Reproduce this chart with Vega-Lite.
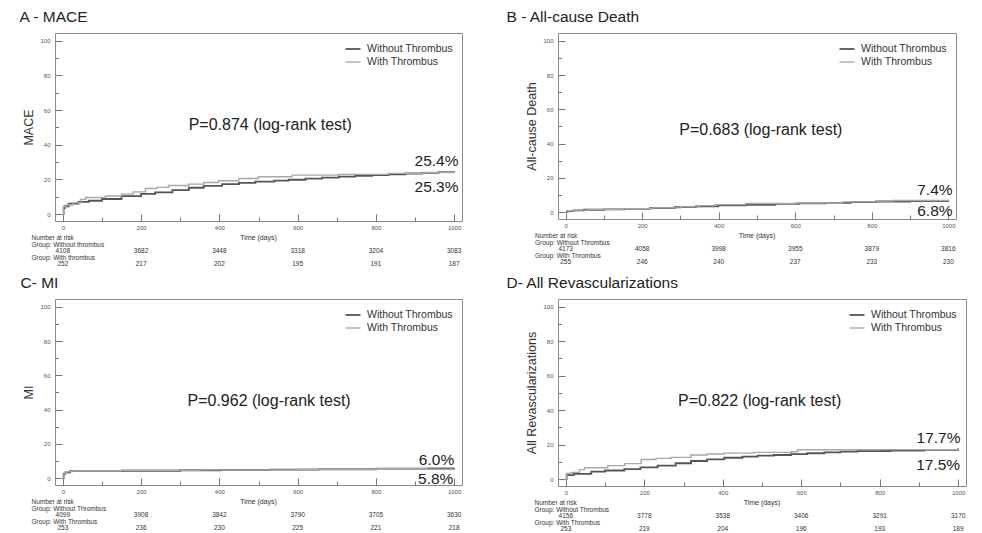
{
  "$schema": "https://vega.github.io/schema/vega-lite/v6.json",
  "padding": {"left": 19, "top": 10, "right": 0, "bottom": 0},
  "config": {
    "font": "Liberation Sans",
    "view": {"stroke": "#8c8c8c", "strokeWidth": 1},
    "axis": {"domain": false, "grid": false, "labelFontSize": 6, "labelColor": "#555", "tickColor": "#777", "tickWidth": 1, "titleFontSize": 12.5, "titleFontWeight": "normal", "titleColor": "#333", "titlePadding": 4, "labelFont": "Liberation Sans", "titleFont": "Liberation Sans", "format": "d"},
    "legend": {"orient": "top-right", "offset": 9, "padding": 0, "labelFontSize": 10.5, "labelColor": "#333", "symbolType": "M-1.25,0H1.25", "symbolSize": 144, "symbolStrokeWidth": 2, "labelOffset": 7, "rowPadding": 0, "labelFont": "Liberation Sans"},
    "text": {"font": "Liberation Sans", "color": "#222"},
    "title": {"font": "Liberation Sans", "fontWeight": "normal", "fontSize": 15.5, "color": "#222", "anchor": "start", "offset": 7}
  },
  "datasets": {
    "curves": [
      {"panel":"A","group":"Without Thrombus","day":0,"pct":0},{"panel":"A","group":"Without Thrombus","day":2,"pct":3.5},{"panel":"A","group":"Without Thrombus","day":5,"pct":4.5},{"panel":"A","group":"Without Thrombus","day":15,"pct":6.0},{"panel":"A","group":"Without Thrombus","day":40,"pct":7.0},{"panel":"A","group":"Without Thrombus","day":66,"pct":7.7},{"panel":"A","group":"Without Thrombus","day":100,"pct":8.7},{"panel":"A","group":"Without Thrombus","day":150,"pct":10.4},{"panel":"A","group":"Without Thrombus","day":200,"pct":11.6},{"panel":"A","group":"Without Thrombus","day":236,"pct":12.5},{"panel":"A","group":"Without Thrombus","day":280,"pct":13.8},{"panel":"A","group":"Without Thrombus","day":322,"pct":15.2},{"panel":"A","group":"Without Thrombus","day":360,"pct":16.3},{"panel":"A","group":"Without Thrombus","day":407,"pct":17.3},{"panel":"A","group":"Without Thrombus","day":450,"pct":18.0},{"panel":"A","group":"Without Thrombus","day":492,"pct":18.7},{"panel":"A","group":"Without Thrombus","day":540,"pct":19.3},{"panel":"A","group":"Without Thrombus","day":577,"pct":19.8},{"panel":"A","group":"Without Thrombus","day":620,"pct":20.4},{"panel":"A","group":"Without Thrombus","day":662,"pct":21.0},{"panel":"A","group":"Without Thrombus","day":705,"pct":21.6},{"panel":"A","group":"Without Thrombus","day":747,"pct":22.1},{"panel":"A","group":"Without Thrombus","day":790,"pct":22.5},{"panel":"A","group":"Without Thrombus","day":832,"pct":22.9},{"panel":"A","group":"Without Thrombus","day":875,"pct":23.4},{"panel":"A","group":"Without Thrombus","day":917,"pct":23.8},{"panel":"A","group":"Without Thrombus","day":960,"pct":24.2},{"panel":"A","group":"Without Thrombus","day":1000,"pct":24.6},
      {"panel":"A","group":"With Thrombus","day":0,"pct":0},{"panel":"A","group":"With Thrombus","day":2,"pct":4.5},{"panel":"A","group":"With Thrombus","day":8,"pct":5.2},{"panel":"A","group":"With Thrombus","day":25,"pct":6.5},{"panel":"A","group":"With Thrombus","day":45,"pct":8.5},{"panel":"A","group":"With Thrombus","day":58,"pct":9.6},{"panel":"A","group":"With Thrombus","day":109,"pct":10.4},{"panel":"A","group":"With Thrombus","day":150,"pct":11.5},{"panel":"A","group":"With Thrombus","day":180,"pct":12.8},{"panel":"A","group":"With Thrombus","day":211,"pct":14.8},{"panel":"A","group":"With Thrombus","day":240,"pct":15.4},{"panel":"A","group":"With Thrombus","day":270,"pct":16.5},{"panel":"A","group":"With Thrombus","day":322,"pct":17.3},{"panel":"A","group":"With Thrombus","day":360,"pct":18.2},{"panel":"A","group":"With Thrombus","day":398,"pct":19.2},{"panel":"A","group":"With Thrombus","day":450,"pct":20.5},{"panel":"A","group":"With Thrombus","day":500,"pct":21.5},{"panel":"A","group":"With Thrombus","day":586,"pct":22.5},{"panel":"A","group":"With Thrombus","day":705,"pct":22.9},{"panel":"A","group":"With Thrombus","day":832,"pct":23.5},{"panel":"A","group":"With Thrombus","day":920,"pct":24.0},{"panel":"A","group":"With Thrombus","day":1000,"pct":24.6},
      {"panel":"B","group":"Without Thrombus","day":0,"pct":0},{"panel":"B","group":"Without Thrombus","day":5,"pct":0.6},{"panel":"B","group":"Without Thrombus","day":20,"pct":1.0},{"panel":"B","group":"Without Thrombus","day":48,"pct":1.4},{"panel":"B","group":"Without Thrombus","day":100,"pct":1.6},{"panel":"B","group":"Without Thrombus","day":153,"pct":1.9},{"panel":"B","group":"Without Thrombus","day":220,"pct":2.4},{"panel":"B","group":"Without Thrombus","day":285,"pct":2.9},{"panel":"B","group":"Without Thrombus","day":340,"pct":3.4},{"panel":"B","group":"Without Thrombus","day":399,"pct":3.9},{"panel":"B","group":"Without Thrombus","day":470,"pct":4.3},{"panel":"B","group":"Without Thrombus","day":548,"pct":4.8},{"panel":"B","group":"Without Thrombus","day":610,"pct":5.1},{"panel":"B","group":"Without Thrombus","day":680,"pct":5.4},{"panel":"B","group":"Without Thrombus","day":745,"pct":5.8},{"panel":"B","group":"Without Thrombus","day":811,"pct":6.2},{"panel":"B","group":"Without Thrombus","day":900,"pct":6.5},{"panel":"B","group":"Without Thrombus","day":1000,"pct":6.8},
      {"panel":"B","group":"With Thrombus","day":0,"pct":0},{"panel":"B","group":"With Thrombus","day":8,"pct":0.8},{"panel":"B","group":"With Thrombus","day":30,"pct":1.2},{"panel":"B","group":"With Thrombus","day":60,"pct":1.6},{"panel":"B","group":"With Thrombus","day":150,"pct":2.0},{"panel":"B","group":"With Thrombus","day":230,"pct":2.5},{"panel":"B","group":"With Thrombus","day":300,"pct":3.1},{"panel":"B","group":"With Thrombus","day":350,"pct":3.8},{"panel":"B","group":"With Thrombus","day":390,"pct":4.4},{"panel":"B","group":"With Thrombus","day":470,"pct":5.0},{"panel":"B","group":"With Thrombus","day":600,"pct":5.3},{"panel":"B","group":"With Thrombus","day":724,"pct":6.0},{"panel":"B","group":"With Thrombus","day":855,"pct":6.8},{"panel":"B","group":"With Thrombus","day":1000,"pct":7.2},
      {"panel":"C","group":"Without Thrombus","day":0,"pct":0},{"panel":"C","group":"Without Thrombus","day":2,"pct":2.5},{"panel":"C","group":"Without Thrombus","day":6,"pct":3.4},{"panel":"C","group":"Without Thrombus","day":18,"pct":4.1},{"panel":"C","group":"Without Thrombus","day":152,"pct":4.3},{"panel":"C","group":"Without Thrombus","day":300,"pct":4.6},{"panel":"C","group":"Without Thrombus","day":403,"pct":4.8},{"panel":"C","group":"Without Thrombus","day":530,"pct":5.0},{"panel":"C","group":"Without Thrombus","day":655,"pct":5.2},{"panel":"C","group":"Without Thrombus","day":800,"pct":5.5},{"panel":"C","group":"Without Thrombus","day":1000,"pct":5.8},
      {"panel":"C","group":"With Thrombus","day":0,"pct":0},{"panel":"C","group":"With Thrombus","day":3,"pct":3.0},{"panel":"C","group":"With Thrombus","day":10,"pct":3.8},{"panel":"C","group":"With Thrombus","day":25,"pct":4.2},{"panel":"C","group":"With Thrombus","day":150,"pct":4.6},{"panel":"C","group":"With Thrombus","day":350,"pct":4.8},{"panel":"C","group":"With Thrombus","day":600,"pct":5.2},{"panel":"C","group":"With Thrombus","day":800,"pct":5.5},{"panel":"C","group":"With Thrombus","day":930,"pct":6.0},{"panel":"C","group":"With Thrombus","day":1000,"pct":6.0},
      {"panel":"D","group":"Without Thrombus","day":0,"pct":0},{"panel":"D","group":"Without Thrombus","day":2,"pct":2.3},{"panel":"D","group":"Without Thrombus","day":20,"pct":3.0},{"panel":"D","group":"Without Thrombus","day":65,"pct":4.3},{"panel":"D","group":"Without Thrombus","day":100,"pct":5.0},{"panel":"D","group":"Without Thrombus","day":149,"pct":5.8},{"panel":"D","group":"Without Thrombus","day":190,"pct":6.8},{"panel":"D","group":"Without Thrombus","day":234,"pct":7.8},{"panel":"D","group":"Without Thrombus","day":280,"pct":9.2},{"panel":"D","group":"Without Thrombus","day":319,"pct":10.5},{"panel":"D","group":"Without Thrombus","day":360,"pct":11.5},{"panel":"D","group":"Without Thrombus","day":404,"pct":12.4},{"panel":"D","group":"Without Thrombus","day":450,"pct":13.0},{"panel":"D","group":"Without Thrombus","day":489,"pct":13.6},{"panel":"D","group":"Without Thrombus","day":530,"pct":14.0},{"panel":"D","group":"Without Thrombus","day":574,"pct":14.5},{"panel":"D","group":"Without Thrombus","day":615,"pct":15.0},{"panel":"D","group":"Without Thrombus","day":659,"pct":15.5},{"panel":"D","group":"Without Thrombus","day":700,"pct":15.9},{"panel":"D","group":"Without Thrombus","day":743,"pct":16.3},{"panel":"D","group":"Without Thrombus","day":828,"pct":16.5},{"panel":"D","group":"Without Thrombus","day":913,"pct":17.0},{"panel":"D","group":"Without Thrombus","day":1000,"pct":17.7},
      {"panel":"D","group":"With Thrombus","day":0,"pct":0},{"panel":"D","group":"With Thrombus","day":2,"pct":3.3},{"panel":"D","group":"With Thrombus","day":14,"pct":3.9},{"panel":"D","group":"With Thrombus","day":35,"pct":5.5},{"panel":"D","group":"With Thrombus","day":48,"pct":6.6},{"panel":"D","group":"With Thrombus","day":107,"pct":7.8},{"panel":"D","group":"With Thrombus","day":150,"pct":9.0},{"panel":"D","group":"With Thrombus","day":192,"pct":11.4},{"panel":"D","group":"With Thrombus","day":230,"pct":12.0},{"panel":"D","group":"With Thrombus","day":268,"pct":12.6},{"panel":"D","group":"With Thrombus","day":319,"pct":14.0},{"panel":"D","group":"With Thrombus","day":360,"pct":14.6},{"panel":"D","group":"With Thrombus","day":404,"pct":15.1},{"panel":"D","group":"With Thrombus","day":480,"pct":15.5},{"panel":"D","group":"With Thrombus","day":574,"pct":15.9},{"panel":"D","group":"With Thrombus","day":591,"pct":17.0},{"panel":"D","group":"With Thrombus","day":800,"pct":17.1},{"panel":"D","group":"With Thrombus","day":1000,"pct":17.7}
    ],
    "risk": [
      {"panel":"A","row":"Without Thrombus","day":0,"n":4108},{"panel":"A","row":"Without Thrombus","day":200,"n":3682},{"panel":"A","row":"Without Thrombus","day":400,"n":3448},{"panel":"A","row":"Without Thrombus","day":600,"n":3318},{"panel":"A","row":"Without Thrombus","day":800,"n":3204},{"panel":"A","row":"Without Thrombus","day":1000,"n":3083},
      {"panel":"A","row":"With Thrombus","day":0,"n":252},{"panel":"A","row":"With Thrombus","day":200,"n":217},{"panel":"A","row":"With Thrombus","day":400,"n":202},{"panel":"A","row":"With Thrombus","day":600,"n":195},{"panel":"A","row":"With Thrombus","day":800,"n":191},{"panel":"A","row":"With Thrombus","day":1000,"n":187},
      {"panel":"B","row":"Without Thrombus","day":0,"n":4173},{"panel":"B","row":"Without Thrombus","day":200,"n":4058},{"panel":"B","row":"Without Thrombus","day":400,"n":3998},{"panel":"B","row":"Without Thrombus","day":600,"n":3955},{"panel":"B","row":"Without Thrombus","day":800,"n":3879},{"panel":"B","row":"Without Thrombus","day":1000,"n":3816},
      {"panel":"B","row":"With Thrombus","day":0,"n":255},{"panel":"B","row":"With Thrombus","day":200,"n":246},{"panel":"B","row":"With Thrombus","day":400,"n":240},{"panel":"B","row":"With Thrombus","day":600,"n":237},{"panel":"B","row":"With Thrombus","day":800,"n":233},{"panel":"B","row":"With Thrombus","day":1000,"n":230},
      {"panel":"C","row":"Without Thrombus","day":0,"n":4099},{"panel":"C","row":"Without Thrombus","day":200,"n":3908},{"panel":"C","row":"Without Thrombus","day":400,"n":3842},{"panel":"C","row":"Without Thrombus","day":600,"n":3790},{"panel":"C","row":"Without Thrombus","day":800,"n":3705},{"panel":"C","row":"Without Thrombus","day":1000,"n":3630},
      {"panel":"C","row":"With Thrombus","day":0,"n":253},{"panel":"C","row":"With Thrombus","day":200,"n":236},{"panel":"C","row":"With Thrombus","day":400,"n":230},{"panel":"C","row":"With Thrombus","day":600,"n":225},{"panel":"C","row":"With Thrombus","day":800,"n":221},{"panel":"C","row":"With Thrombus","day":1000,"n":218},
      {"panel":"D","row":"Without Thrombus","day":0,"n":4156},{"panel":"D","row":"Without Thrombus","day":200,"n":3778},{"panel":"D","row":"Without Thrombus","day":400,"n":3538},{"panel":"D","row":"Without Thrombus","day":600,"n":3406},{"panel":"D","row":"Without Thrombus","day":800,"n":3291},{"panel":"D","row":"Without Thrombus","day":1000,"n":3170},
      {"panel":"D","row":"With Thrombus","day":0,"n":253},{"panel":"D","row":"With Thrombus","day":200,"n":219},{"panel":"D","row":"With Thrombus","day":400,"n":204},{"panel":"D","row":"With Thrombus","day":600,"n":196},{"panel":"D","row":"With Thrombus","day":800,"n":193},{"panel":"D","row":"With Thrombus","day":1000,"n":189}
    ]
  },
  "columns": 2,
  "spacing": {"row": 8, "column": 43},
  "resolve": {"scale": {"color": "independent", "strokeWidth": "independent"}, "legend": {"color": "independent"}},
  "concat": [
    {
      "title": {"text": "A - MACE", "dx": -3},
      "spacing": 3,
      "resolve": {"scale": {"color": "independent", "strokeWidth": "independent"}, "legend": {"color": "independent"}},
      "vconcat": [
        {
          "width": 407, "height": 188,
          "resolve": {"axis": {"x": "independent", "y": "independent"}},
          "layer": [
            {
              "data": {"name": "curves"},
              "transform": [{"filter": "datum.panel === 'A'"}],
              "mark": {"type": "line", "interpolate": "step-after"},
              "encoding": {
                "x": {"field": "day", "type": "quantitative", "scale": {"domain": [-20, 1020], "nice": false, "zero": false}, "axis": {"values": [0,200,400,600,800,1000], "tickSize": -7, "labelPadding": 10, "title": null, "orient": "bottom"}},
                "y": {"field": "pct", "type": "quantitative", "scale": {"domain": [-4, 104.5], "nice": false, "zero": false}, "axis": {"values": [0,20,40,60,80,100], "tickSize": -7, "labelPadding": 12, "title": "MACE", "orient": "left"}},
                "color": {"field": "group", "type": "nominal", "scale": {"domain": ["Without Thrombus","With Thrombus"], "range": ["#555555","#a8a8a8"]}, "legend": {"title": null}},
                "strokeWidth": {"field": "group", "type": "nominal", "scale": {"domain": ["Without Thrombus","With Thrombus"], "range": [1.8, 1.4]}, "legend": null}
              }
            },
            {
              "data": {"values": [{}]},
              "mark": {"type": "text", "text": "P=0.874 (log-rank test)", "fontSize": 16},
              "encoding": {
                "x": {"datum": 530, "type": "quantitative", "axis": {"values": [100,300,500,700,900], "tickSize": -4, "labels": false, "title": null, "orient": "bottom"}},
                "y": {"datum": 51.4, "type": "quantitative", "axis": {"values": [10,30,50,70,90], "tickSize": -3.5, "labels": false, "title": null, "orient": "left"}}
              }
            },
            {
              "data": {"values": [{}]},
              "mark": {"type": "text", "text": "25.4%", "align": "right", "fontSize": 15.5},
              "encoding": {"x": {"datum": 1011, "type": "quantitative", "axis": null}, "y": {"datum": 30.6, "type": "quantitative", "axis": null}}
            },
            {
              "data": {"values": [{}]},
              "mark": {"type": "text", "text": "25.3%", "align": "right", "fontSize": 15.5},
              "encoding": {"x": {"datum": 1011, "type": "quantitative", "axis": null}, "y": {"datum": 15.9, "type": "quantitative", "axis": null}}
            }
          ]
        },
        {
          "width": 407, "height": 32.5,
          "view": {"stroke": null},
          "layer": [
            {
              "data": {"name": "risk"},
              "transform": [{"filter": "datum.panel === 'A'"}],
              "mark": {"type": "text", "fontSize": 6.5, "color": "#333"},
              "encoding": {
                "x": {"field": "day", "type": "quantitative", "scale": {"domain": [-20, 1020], "nice": false, "zero": false}, "axis": null},
                "y": {"field": "row", "type": "nominal", "scale": {"type": "point", "domain": ["header","label_without","Without Thrombus","label_with","With Thrombus"], "padding": 0.5}, "axis": null},
                "text": {"field": "n", "type": "quantitative", "format": "d"}
              }
            },
            {
              "data": {"values": [{"row":"header","label":"Number at risk"},{"row":"label_without","label":"Group: Without thrombus"},{"row":"label_with","label":"Group: With thrombus"}]},
              "mark": {"type": "text", "align": "left", "fontSize": 6.5, "color": "#333"},
              "encoding": {"x": {"datum": -80, "type": "quantitative"}, "y": {"field": "row", "type": "nominal"}, "text": {"field": "label"}}
            },
            {
              "data": {"values": [{"row":"header"}]},
              "mark": {"type": "text", "text": "Time (days)", "fontSize": 7, "color": "#333"},
              "encoding": {"x": {"datum": 500, "type": "quantitative"}, "y": {"field": "row", "type": "nominal"}}
            }
          ]
        }
      ]
    },
    {
      "title": {"text": "B - All-cause Death", "dx": -19},
      "spacing": 3,
      "resolve": {"scale": {"color": "independent", "strokeWidth": "independent"}, "legend": {"color": "independent"}},
      "vconcat": [
        {
          "width": 398, "height": 186,
          "resolve": {"axis": {"x": "independent", "y": "independent"}},
          "layer": [
            {
              "data": {"name": "curves"},
              "transform": [{"filter": "datum.panel === 'B'"}],
              "mark": {"type": "line", "interpolate": "step-after"},
              "encoding": {
                "x": {"field": "day", "type": "quantitative", "scale": {"domain": [-20, 1020], "nice": false, "zero": false}, "axis": {"values": [0,200,400,600,800,1000], "tickSize": -7, "labelPadding": 10, "title": null, "orient": "bottom"}},
                "y": {"field": "pct", "type": "quantitative", "scale": {"domain": [-4, 104.5], "nice": false, "zero": false}, "axis": {"values": [0,20,40,60,80,100], "tickSize": -7, "labelPadding": 12, "title": "All-cause Death", "orient": "left"}},
                "color": {"field": "group", "type": "nominal", "scale": {"domain": ["Without Thrombus","With Thrombus"], "range": ["#555555","#a8a8a8"]}, "legend": {"title": null}},
                "strokeWidth": {"field": "group", "type": "nominal", "scale": {"domain": ["Without Thrombus","With Thrombus"], "range": [1.8, 1.4]}, "legend": null}
              }
            },
            {
              "data": {"values": [{}]},
              "mark": {"type": "text", "text": "P=0.683 (log-rank test)", "fontSize": 16},
              "encoding": {
                "x": {"datum": 510, "type": "quantitative", "axis": {"values": [100,300,500,700,900], "tickSize": -4, "labels": false, "title": null, "orient": "bottom"}},
                "y": {"datum": 48, "type": "quantitative", "axis": {"values": [10,30,50,70,90], "tickSize": -3.5, "labels": false, "title": null, "orient": "left"}}
              }
            },
            {
              "data": {"values": [{}]},
              "mark": {"type": "text", "text": "7.4%", "align": "right", "fontSize": 15.5},
              "encoding": {"x": {"datum": 1011, "type": "quantitative", "axis": null}, "y": {"datum": 12.8, "type": "quantitative", "axis": null}}
            },
            {
              "data": {"values": [{}]},
              "mark": {"type": "text", "text": "6.8%", "align": "right", "fontSize": 15.5},
              "encoding": {"x": {"datum": 1011, "type": "quantitative", "axis": null}, "y": {"datum": 0.7, "type": "quantitative", "axis": null}}
            }
          ]
        },
        {
          "width": 398, "height": 32.5,
          "view": {"stroke": null},
          "layer": [
            {
              "data": {"name": "risk"},
              "transform": [{"filter": "datum.panel === 'B'"}],
              "mark": {"type": "text", "fontSize": 6.5, "color": "#333"},
              "encoding": {
                "x": {"field": "day", "type": "quantitative", "scale": {"domain": [-20, 1020], "nice": false, "zero": false}, "axis": null},
                "y": {"field": "row", "type": "nominal", "scale": {"type": "point", "domain": ["header","label_without","Without Thrombus","label_with","With Thrombus"], "padding": 0.5}, "axis": null},
                "text": {"field": "n", "type": "quantitative", "format": "d"}
              }
            },
            {
              "data": {"values": [{"row":"header","label":"Number at risk"},{"row":"label_without","label":"Group: Without Thrombus"},{"row":"label_with","label":"Group: With Thrombus"}]},
              "mark": {"type": "text", "align": "left", "fontSize": 6.5, "color": "#333"},
              "encoding": {"x": {"datum": -80, "type": "quantitative"}, "y": {"field": "row", "type": "nominal"}, "text": {"field": "label"}}
            },
            {
              "data": {"values": [{"row":"header"}]},
              "mark": {"type": "text", "text": "Time (days)", "fontSize": 7, "color": "#333"},
              "encoding": {"x": {"datum": 500, "type": "quantitative"}, "y": {"field": "row", "type": "nominal"}}
            }
          ]
        }
      ]
    },
    {
      "title": {"text": "C- MI", "dx": -2},
      "spacing": 3,
      "resolve": {"scale": {"color": "independent", "strokeWidth": "independent"}, "legend": {"color": "independent"}},
      "vconcat": [
        {
          "width": 407, "height": 186,
          "resolve": {"axis": {"x": "independent", "y": "independent"}},
          "layer": [
            {
              "data": {"name": "curves"},
              "transform": [{"filter": "datum.panel === 'C'"}],
              "mark": {"type": "line", "interpolate": "step-after"},
              "encoding": {
                "x": {"field": "day", "type": "quantitative", "scale": {"domain": [-20, 1020], "nice": false, "zero": false}, "axis": {"values": [0,200,400,600,800,1000], "tickSize": -7, "labelPadding": 10, "title": null, "orient": "bottom"}},
                "y": {"field": "pct", "type": "quantitative", "scale": {"domain": [-4, 104.5], "nice": false, "zero": false}, "axis": {"values": [0,20,40,60,80,100], "tickSize": -7, "labelPadding": 12, "title": "MI", "orient": "left"}},
                "color": {"field": "group", "type": "nominal", "scale": {"domain": ["Without Thrombus","With Thrombus"], "range": ["#555555","#a8a8a8"]}, "legend": {"title": null}},
                "strokeWidth": {"field": "group", "type": "nominal", "scale": {"domain": ["Without Thrombus","With Thrombus"], "range": [1.8, 1.4]}, "legend": null}
              }
            },
            {
              "data": {"values": [{}]},
              "mark": {"type": "text", "text": "P=0.962 (log-rank test)", "fontSize": 16},
              "encoding": {
                "x": {"datum": 527, "type": "quantitative", "axis": {"values": [100,300,500,700,900], "tickSize": -4, "labels": false, "title": null, "orient": "bottom"}},
                "y": {"datum": 44.8, "type": "quantitative", "axis": {"values": [10,30,50,70,90], "tickSize": -3.5, "labels": false, "title": null, "orient": "left"}}
              }
            },
            {
              "data": {"values": [{}]},
              "mark": {"type": "text", "text": "6.0%", "align": "right", "fontSize": 15.5},
              "encoding": {"x": {"datum": 1000, "type": "quantitative", "axis": null}, "y": {"datum": 10.6, "type": "quantitative", "axis": null}}
            },
            {
              "data": {"values": [{}]},
              "mark": {"type": "text", "text": "5.8%", "align": "right", "fontSize": 15.5},
              "encoding": {"x": {"datum": 998, "type": "quantitative", "axis": null}, "y": {"datum": -0.5, "type": "quantitative", "axis": null}}
            }
          ]
        },
        {
          "width": 407, "height": 32.5,
          "view": {"stroke": null},
          "layer": [
            {
              "data": {"name": "risk"},
              "transform": [{"filter": "datum.panel === 'C'"}],
              "mark": {"type": "text", "fontSize": 6.5, "color": "#333"},
              "encoding": {
                "x": {"field": "day", "type": "quantitative", "scale": {"domain": [-20, 1020], "nice": false, "zero": false}, "axis": null},
                "y": {"field": "row", "type": "nominal", "scale": {"type": "point", "domain": ["header","label_without","Without Thrombus","label_with","With Thrombus"], "padding": 0.5}, "axis": null},
                "text": {"field": "n", "type": "quantitative", "format": "d"}
              }
            },
            {
              "data": {"values": [{"row":"header","label":"Number at risk"},{"row":"label_without","label":"Group: Without Thrombus"},{"row":"label_with","label":"Group: With Thrombus"}]},
              "mark": {"type": "text", "align": "left", "fontSize": 6.5, "color": "#333"},
              "encoding": {"x": {"datum": -80, "type": "quantitative"}, "y": {"field": "row", "type": "nominal"}, "text": {"field": "label"}}
            },
            {
              "data": {"values": [{"row":"header"}]},
              "mark": {"type": "text", "text": "Time (days)", "fontSize": 7, "color": "#333"},
              "encoding": {"x": {"datum": 500, "type": "quantitative"}, "y": {"field": "row", "type": "nominal"}}
            }
          ]
        }
      ]
    },
    {
      "title": {"text": "D- All Revascularizations", "dx": -19},
      "spacing": 3,
      "resolve": {"scale": {"color": "independent", "strokeWidth": "independent"}, "legend": {"color": "independent"}},
      "vconcat": [
        {
          "width": 408, "height": 187,
          "resolve": {"axis": {"x": "independent", "y": "independent"}},
          "layer": [
            {
              "data": {"name": "curves"},
              "transform": [{"filter": "datum.panel === 'D'"}],
              "mark": {"type": "line", "interpolate": "step-after"},
              "encoding": {
                "x": {"field": "day", "type": "quantitative", "scale": {"domain": [-20, 1020], "nice": false, "zero": false}, "axis": {"values": [0,200,400,600,800,1000], "tickSize": -7, "labelPadding": 10, "title": null, "orient": "bottom"}},
                "y": {"field": "pct", "type": "quantitative", "scale": {"domain": [-4, 104.5], "nice": false, "zero": false}, "axis": {"values": [0,20,40,60,80,100], "tickSize": -7, "labelPadding": 12, "title": "All Revascularizations", "orient": "left"}},
                "color": {"field": "group", "type": "nominal", "scale": {"domain": ["Without Thrombus","With Thrombus"], "range": ["#555555","#a8a8a8"]}, "legend": {"title": null}},
                "strokeWidth": {"field": "group", "type": "nominal", "scale": {"domain": ["Without Thrombus","With Thrombus"], "range": [1.8, 1.4]}, "legend": null}
              }
            },
            {
              "data": {"values": [{}]},
              "mark": {"type": "text", "text": "P=0.822 (log-rank test)", "fontSize": 16},
              "encoding": {
                "x": {"datum": 494, "type": "quantitative", "axis": {"values": [100,300,500,700,900], "tickSize": -4, "labels": false, "title": null, "orient": "bottom"}},
                "y": {"datum": 45.3, "type": "quantitative", "axis": {"values": [10,30,50,70,90], "tickSize": -3.5, "labels": false, "title": null, "orient": "left"}}
              }
            },
            {
              "data": {"values": [{}]},
              "mark": {"type": "text", "text": "17.7%", "align": "right", "fontSize": 15.5},
              "encoding": {"x": {"datum": 1006, "type": "quantitative", "axis": null}, "y": {"datum": 23.8, "type": "quantitative", "axis": null}}
            },
            {
              "data": {"values": [{}]},
              "mark": {"type": "text", "text": "17.5%", "align": "right", "fontSize": 15.5},
              "encoding": {"x": {"datum": 1005, "type": "quantitative", "axis": null}, "y": {"datum": 8.4, "type": "quantitative", "axis": null}}
            }
          ]
        },
        {
          "width": 408, "height": 32.5,
          "view": {"stroke": null},
          "layer": [
            {
              "data": {"name": "risk"},
              "transform": [{"filter": "datum.panel === 'D'"}],
              "mark": {"type": "text", "fontSize": 6.5, "color": "#333"},
              "encoding": {
                "x": {"field": "day", "type": "quantitative", "scale": {"domain": [-20, 1020], "nice": false, "zero": false}, "axis": null},
                "y": {"field": "row", "type": "nominal", "scale": {"type": "point", "domain": ["header","label_without","Without Thrombus","label_with","With Thrombus"], "padding": 0.5}, "axis": null},
                "text": {"field": "n", "type": "quantitative", "format": "d"}
              }
            },
            {
              "data": {"values": [{"row":"header","label":"Number at risk"},{"row":"label_without","label":"Group: Without Thrombus"},{"row":"label_with","label":"Group: With Thrombus"}]},
              "mark": {"type": "text", "align": "left", "fontSize": 6.5, "color": "#333"},
              "encoding": {"x": {"datum": -80, "type": "quantitative"}, "y": {"field": "row", "type": "nominal"}, "text": {"field": "label"}}
            },
            {
              "data": {"values": [{"row":"header"}]},
              "mark": {"type": "text", "text": "Time (days)", "fontSize": 7, "color": "#333"},
              "encoding": {"x": {"datum": 500, "type": "quantitative"}, "y": {"field": "row", "type": "nominal"}}
            }
          ]
        }
      ]
    }
  ]
}
